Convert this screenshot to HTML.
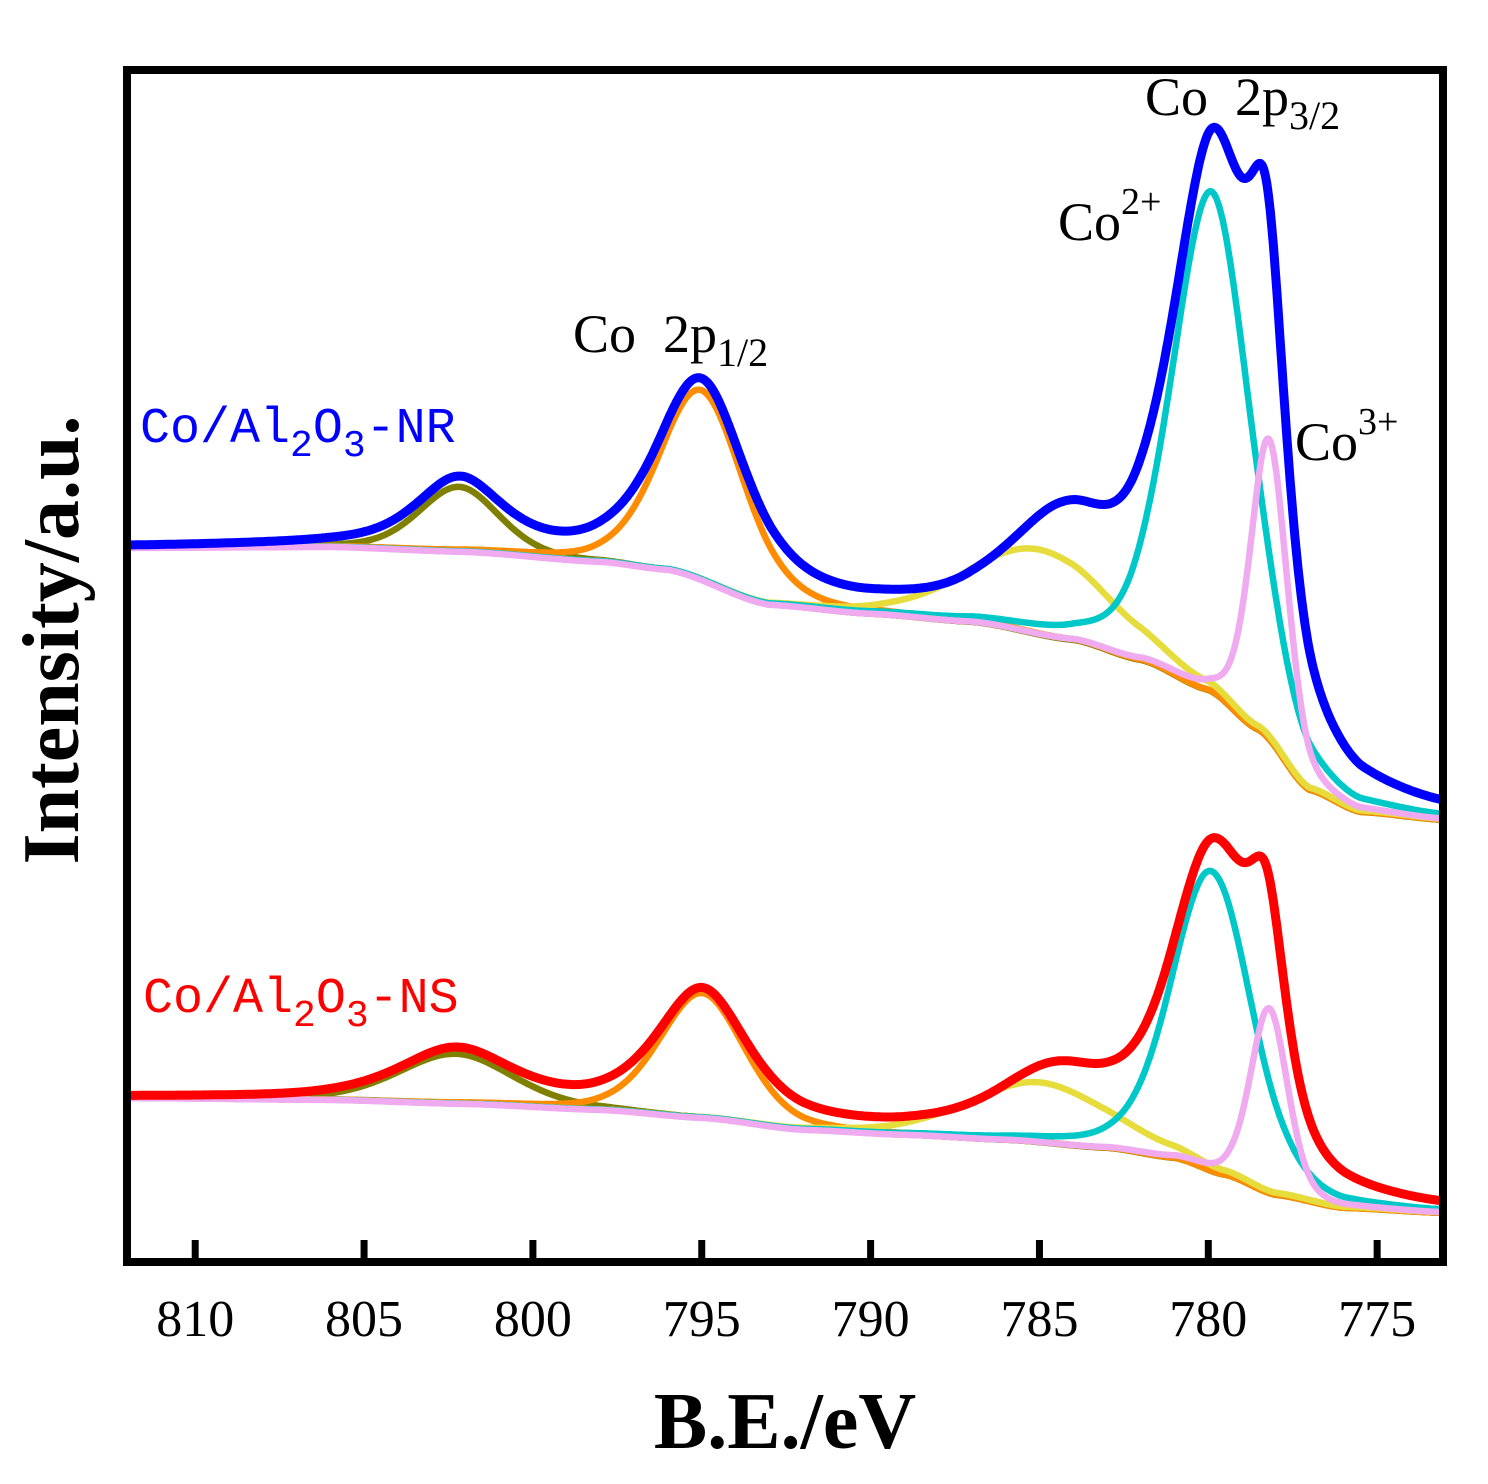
<!DOCTYPE html>
<html><head><meta charset="utf-8"><style>
html,body{margin:0;padding:0;background:#fff;}
svg{display:block;}
</style></head><body>
<svg id="chart" width="1488" height="1484" viewBox="0 0 1488 1484" xmlns="http://www.w3.org/2000/svg">
<g id="curves"></g>
<rect x="127" y="70" width="1316" height="1192" fill="none" stroke="#000" stroke-width="8"/>
<g id="ticks"></g>
<text x="785" y="1448" text-anchor="middle" font-family="Liberation Serif, serif" font-weight="bold" font-size="80">B.E./eV</text>
<text transform="translate(78,640) rotate(-90)" text-anchor="middle" font-family="Liberation Serif, serif" font-weight="bold" font-size="80">Intensity/a.u.</text>
<g font-family="Liberation Mono, monospace" font-size="50">
<text x="140" y="442" fill="#0000ff">Co/Al<tspan font-size="38" dy="14">2</tspan><tspan dy="-14">O</tspan><tspan font-size="38" dy="14">3</tspan><tspan dy="-14">-NR</tspan></text>
<text x="143" y="1012" fill="#ff0000">Co/Al<tspan font-size="38" dy="14">2</tspan><tspan dy="-14">O</tspan><tspan font-size="38" dy="14">3</tspan><tspan dy="-14">-NS</tspan></text>
</g>
<g font-family="Liberation Serif, serif" font-size="54">
<text x="573" y="352" xml:space="preserve">Co  2p<tspan font-size="40" dy="14">1/2</tspan></text>
<text x="1145" y="115" xml:space="preserve">Co  2p<tspan font-size="40" dy="14">3/2</tspan></text>
<text x="1058" y="240">Co<tspan font-size="38" dy="-26">2+</tspan></text>
<text x="1295" y="460">Co<tspan font-size="38" dy="-26">3+</tspan></text>
</g>
</svg>
<script>
// x axis
const xTicks = [810, 805, 800, 795, 790, 785, 780, 775];
const xMin = 812.02, xMax = 773.05;
// NR sample: background (BE, intensity px-units above bottom)
const nrBgBE = [812, 806, 802, 798, 796, 793, 790, 787, 784, 782, 780, 778.5, 777, 775.5, 773];
const nrBgI  = [714, 715, 710, 700, 692, 657, 648, 640, 622, 602, 572, 532, 472, 450, 442];
// NR components: center, amplitude, fwhm
const nrCenters = [779.9, 778.2, 785.0, 795.0, 802.2];
const nrAmps    = [500, 300, 85, 190, 65];
const nrFwhm    = [2.8, 1.3, 5.0, 3.0, 2.8];
const nrColors  = ['#00c8c8', '#f0aaf0', '#e6dc3c', '#ff8c00', '#808000'];
const nrTotCenters = [779.85, 778.25, 784.3, 795.0, 802.2];
const nrTotAmps    = [525, 300, 100, 195, 68];
const nrTotFwhm    = [3.0, 1.3, 4.0, 3.2, 3.0];
// NS sample
const nsBgBE = [812, 806, 802, 798, 795, 792, 789, 786, 783, 781, 779.5, 778, 776, 773];
const nsBgI  = [164, 162, 158, 152, 144, 132, 127, 122, 114, 104, 87, 67, 54, 49];
const nsCenters = [779.9, 778.2, 785.0, 795.0, 802.3];
const nsAmps    = [300, 185, 60, 125, 50];
const nsFwhm    = [2.8, 1.3, 5.0, 3.0, 4.0];
const nsTotCenters = [779.85, 778.25, 784.5, 795.0, 802.3];
const nsTotAmps    = [310, 175, 62, 125, 52];
const nsTotFwhm    = [3.0, 1.3, 4.2, 3.2, 4.0];

const L = 127, R = 1443, B = 1262;
const sx = be => L + (xMin - be) / (xMin - xMax) * (R - L);
const sy = v => B - v;
function bg(bes, is, be) {
  if (be >= bes[0]) return is[0];
  for (let i = 1; i < bes.length; i++) if (be >= bes[i]) {
    const t = (bes[i-1] - be) / (bes[i-1] - bes[i]);
    const s = t*t*(3-2*t);
    return is[i-1] + (is[i] - is[i-1]) * (0.5*t + 0.5*s);
  }
  return is[is.length-1];
}
function pv(be, c, a, w, m) {
  const d = (be - c) / (w / 2);
  return a * (m / (1 + d*d) + (1 - m) * Math.exp(-Math.LN2 * d*d));
}
const NS = 'http://www.w3.org/2000/svg';
const g = document.getElementById('curves');
function draw(fn, color, width, name) {
  let d = '';
  for (let k = 0; k <= 800; k++) {
    const be = xMin + (xMax - xMin) * k / 800;
    d += (k ? 'L' : 'M') + sx(be).toFixed(1) + ',' + sy(fn(be)).toFixed(1);
  }
  const p = document.createElementNS(NS, 'path');
  p.setAttribute('d', d);
  p.setAttribute('fill', 'none');
  p.setAttribute('stroke', color);
  p.setAttribute('stroke-width', width);
  p.setAttribute('stroke-linejoin', 'round');
  
  
  g.appendChild(p);
}
function sample(bes, is, cs, as, ws, tc, ta, tw, totColor, tag) {
  const order = [4, 3, 2, 0, 1];
  const names = ['co2-peak', 'co3-peak', 'satellite-2p32', 'peak-2p12', 'satellite-2p12'];
  order.forEach(i => draw(be => bg(bes, is, be) + pv(be, cs[i], as[i], ws[i], 0.3), nrColors[i], 6.5, tag + '-' + names[i]));
  draw(be => { let v = bg(bes, is, be); for (let i = 0; i < tc.length; i++) v += pv(be, tc[i], ta[i], tw[i], 0.6); return v; }, totColor, 9, tag + '-total');
}
sample(nrBgBE, nrBgI, nrCenters, nrAmps, nrFwhm, nrTotCenters, nrTotAmps, nrTotFwhm, '#0000ff', 'nr');
sample(nsBgBE, nsBgI, nsCenters, nsAmps, nsFwhm, nsTotCenters, nsTotAmps, nsTotFwhm, '#ff0000', 'ns');

const tg = document.getElementById('ticks');
xTicks.forEach(t => {
  const x = sx(t);
  const l = document.createElementNS(NS, 'line');
  l.setAttribute('x1', x); l.setAttribute('x2', x);
  l.setAttribute('y1', B - 22); l.setAttribute('y2', B);
  l.setAttribute('stroke', '#000'); l.setAttribute('stroke-width', 7);
  
  
  tg.appendChild(l);
  const tx = document.createElementNS(NS, 'text');
  tx.setAttribute('x', x); tx.setAttribute('y', 1336);
  tx.setAttribute('text-anchor', 'middle');
  tx.setAttribute('font-family', 'Liberation Serif, serif');
  tx.setAttribute('font-size', '52');
  tx.textContent = t;
  
  
  tg.appendChild(tx);
});
</script>
</body></html>
